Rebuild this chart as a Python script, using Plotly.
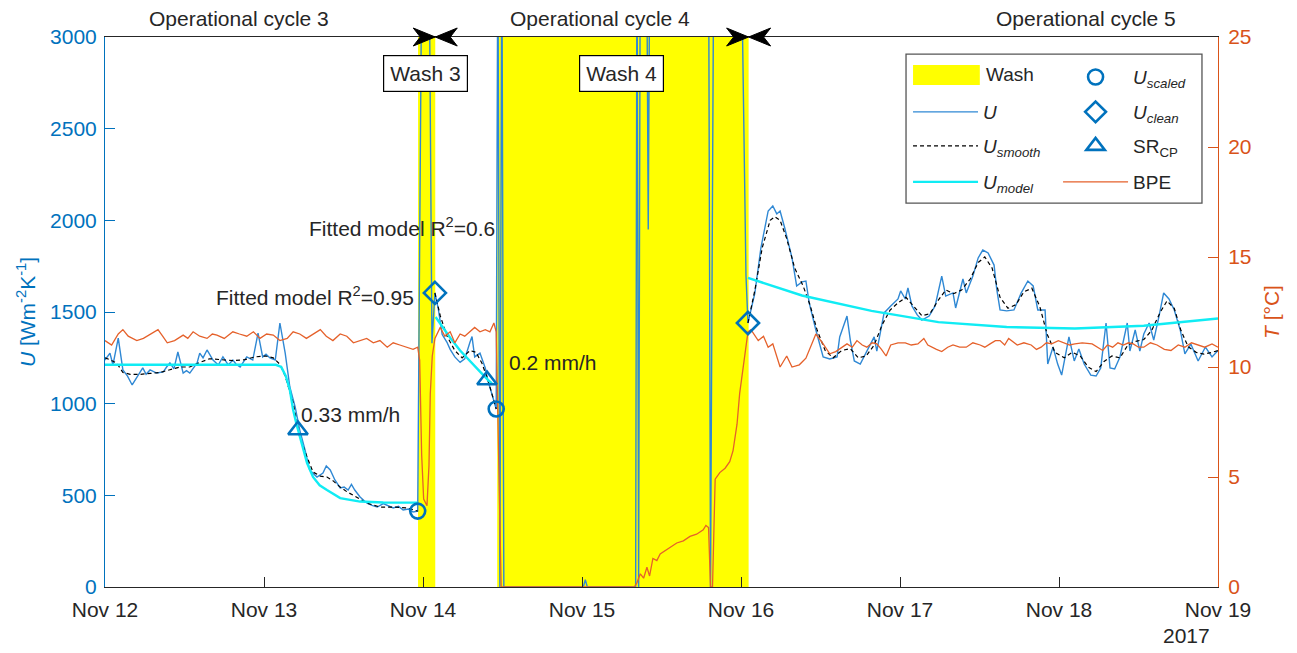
import plotly.graph_objects as go
import pandas as pd

BASE = pd.Timestamp("2017-11-12 00:00")
DAYS = 7

# ---------------- data (hours since Nov 12 00:00) ----------------
wash3 = (47.25, 49.85)
wash4 = (59.2, 97.15)

u_hours = [0.0, 0.75, 1.2, 2.0, 2.7, 3.4, 4.1, 4.8, 5.7, 6.2, 6.8, 7.8, 8.8, 9.3, 9.8, 10.4, 11.0, 11.8, 12.3, 12.8,
           13.4, 13.9, 14.3, 14.8, 15.4, 16.3, 17.1, 17.8, 18.6, 19.3, 19.8, 20.4, 21.4, 22.3, 23.1, 23.8, 24.3, 24.9,
           25.7, 26.4, 27.2, 27.9, 28.7, 29.4, 30.2, 30.9, 32.0, 32.9, 33.4, 34.0, 34.7, 35.5, 36.1, 36.7, 37.2, 37.7,
           38.5, 39.5, 40.3, 41.1, 42.0, 42.6, 43.5, 44.3, 45.0, 45.8, 46.5, 47.2,
           47.85, 48.9, 49.35, 49.8,
           50.3, 50.9, 51.6, 52.1, 52.8, 53.6, 54.3, 55.1, 55.4, 55.8, 56.6, 57.4, 57.8, 58.4, 59.05,
           59.3, 59.6, 59.9, 60.2, 72.2, 72.5, 72.8, 80.1, 80.3, 80.55, 80.8, 81.75, 82.0, 82.25, 91.1, 91.4, 91.9,
           96.0, 96.75, 97.05,
           98.1, 99.0, 100.1, 100.8, 101.4, 101.9, 102.6, 103.7, 104.4, 105.2, 105.8, 106.3, 107.3, 108.4, 109.4,
           110.5, 110.9, 112.0, 112.5, 113.1, 114.0, 115.0, 116.1, 116.5, 117.6, 118.6, 119.7, 120.1, 120.8, 121.2,
           121.8, 122.6, 123.3, 124.4, 125.3, 126.3, 126.9, 128.0, 128.4, 129.5, 130.0, 131.0, 131.8, 132.5, 133.3,
           134.2, 134.6, 135.1, 136.1, 137.2, 138.3, 139.3, 140.1, 140.8, 141.9, 142.3, 143.1, 143.8, 144.4, 145.5,
           146.3, 147.0, 147.8, 148.8, 149.6, 150.3, 151.1, 151.7, 152.4, 153.2, 154.3, 154.7, 155.5, 156.2, 156.8,
           157.6, 158.3, 159.1, 159.8, 160.6, 161.4, 162.3, 163.0, 163.9, 165.0, 166.1, 167.1, 168.0]
u_vals = [1238, 1276, 1211, 1358, 1184, 1150, 1102, 1140, 1195, 1160, 1184, 1167, 1173, 1200, 1222, 1190, 1282, 1167,
          1180, 1167, 1200, 1222, 1276, 1250, 1293, 1238, 1211, 1255, 1211, 1238, 1215, 1200, 1255, 1238, 1385, 1255,
          1270, 1249, 1238, 1440, 1276, 1091, 982, 856, 747, 638, 600, 622, 660, 638, 584, 540, 545, 529, 560, 529,
          491, 458, 445, 436, 455, 447, 431, 440, 420, 425, 409, 414,
          3600, 3600, 1330, 1604,
          1519, 1377, 1336, 1296, 1255, 1225, 1244, 1336, 1366, 1255, 1276, 1195, 1124, 1053, 971,
          3600, 0, 3600, 0, 0, 40, 0, 0, 3600, 0, 3600, 3600, 1950, 3600, 3600, 0, 3600,
          3600, 1700, 1440,
          1604, 1849, 2051, 2078, 2035, 2051, 1958, 1795, 1642, 1664, 1669, 1549, 1402, 1255, 1244,
          1255, 1364, 1478, 1347, 1233, 1216, 1287, 1364, 1287, 1495, 1533, 1571, 1615, 1571, 1631,
          1533, 1484, 1456, 1478, 1533, 1696, 1587, 1604, 1522, 1680, 1604, 1696, 1795, 1838, 1822,
          1756, 1625, 1511, 1506, 1511, 1604, 1669, 1642, 1511, 1511, 1216, 1309, 1216, 1156, 1364,
          1233, 1298, 1216, 1156, 1151, 1195, 1440, 1195, 1189, 1255, 1440, 1287, 1402, 1287, 1380,
          1440, 1347, 1478, 1604, 1571, 1511, 1402, 1271, 1325, 1233, 1309, 1255, 1290]

smooth_hours = [0.0, 0.75, 1.8, 2.7, 3.8, 5.3, 6.8, 8.3, 9.8, 11.3, 12.8, 14.3, 15.8, 17.4, 19.3, 21.1, 22.6, 24.2,
                25.4, 26.4, 27.2, 28.4, 29.4, 30.5, 31.4, 32.5, 33.5, 34.4, 35.5, 36.5, 37.4, 38.5, 39.5, 41.5, 43.5,
                45.6, 47.2, None,
                49.8, 50.6, 51.6, 52.8, 53.9, 55.1, 56.0, 56.9, 57.8, 58.6, 59.05, None,
                97.05, 98.1, 99.2, 100.4, 101.1, 101.9, 102.9, 104.1, 105.4, 106.4, 107.5, 108.7, 109.9, 111.2, 112.5,
                113.7, 114.9, 116.1, 117.3, 118.5, 119.7, 120.9, 122.1, 123.3, 124.5, 125.7, 126.9, 128.1, 129.3,
                130.6, 131.8, 132.8, 133.9, 135.1, 136.3, 137.5, 138.7, 139.9, 141.1, 142.2, 143.4, 144.8, 146.0,
                147.2, 148.4, 149.6, 150.8, 152.0, 153.2, 154.4, 155.6, 156.8, 158.0, 159.3, 160.3, 161.4, 162.4,
                163.5, 164.7, 165.9, 167.1, 168.0]
smooth_vals = [1250, 1240, 1220, 1170, 1160, 1160, 1165, 1170, 1185, 1200, 1200, 1225, 1245, 1240, 1235, 1240, 1255,
               1260, 1250, 1215, 1150, 1004, 818, 709, 627, 605, 600, 580, 545, 520, 502, 480, 458, 436, 436, 431,
               414, None,
               1604, 1480, 1370, 1290, 1250, 1290, 1280, 1220, 1130, 1030, 971, None,
               1440, 1620, 1850, 2000, 2020, 2000, 1900, 1740, 1640, 1540, 1400, 1290, 1250, 1290, 1300,
               1250, 1260, 1320, 1430, 1510, 1550, 1580, 1530, 1480, 1490, 1560, 1620, 1600, 1620,
               1680, 1770, 1800, 1740, 1580, 1520, 1540, 1610, 1630, 1530, 1380, 1280, 1250, 1280,
               1260, 1200, 1175, 1230, 1260, 1250, 1320, 1340, 1350, 1400, 1500, 1560, 1520, 1400,
               1310, 1280, 1270, 1280, 1290]

model_hours = [0.0, 25.8, 26.6, 27.3, 27.9, 28.4, 28.9, 29.4, 30.0, 30.5, 31.4, 32.4, 33.5, 35.5, 38.5, 42.0, 47.2, None,
               49.9, 50.9, 52.1, 53.6, 55.1, 56.6, 57.8, 58.4, None,
               97.05, 105.2, 115.7, 125.8, 136.1, 146.4, 156.8, 168.0]
model_vals = [1212, 1212, 1200, 1150, 1075, 965, 890, 818, 740, 676, 600, 555, 529, 485, 466, 461, 460, None,
              1473, 1420, 1360, 1290, 1230, 1175, 1130, 1110, None,
              1686, 1590, 1506, 1445, 1418, 1410, 1425, 1465]

bpe_hours = [0, 1.0, 2.0, 2.7, 3.5, 4.8, 5.8, 6.8, 8.0, 8.7, 9.4, 10.5, 11.8, 12.5, 13.3, 14.3, 15.4, 16.2, 16.9, 18.0,
             19.3, 20.3, 21.4, 22.4, 23.4, 24.4, 25.4, 26.4, 27.5, 28.4, 29.4, 30.4, 31.4, 32.5, 33.4, 34.4, 35.5,
             36.5, 37.5, 38.5, 39.5, 40.5, 41.5, 42.6, 43.5, 44.5, 45.5, 46.5, 47.2,
             47.5, 47.8, 48.1, 48.6, 48.9, 49.1, 49.4, 49.8,
             50.6, 51.3, 52.1, 52.8, 53.6, 54.3, 55.1, 55.8, 56.6, 57.4, 58.1, 58.7, 59.05, 59.4, 59.8,
             79.9, 80.3, 80.8, 81.3, 81.8, 82.2, 82.7, 83.3, 83.8, 84.8, 85.5, 86.3, 87.3, 88.3, 89.3, 90.3, 90.7,
             91.1, 91.4, 91.7, 92.1, 92.8, 93.6, 94.3, 94.8, 95.4, 95.8, 96.6, 97.05,
             97.5, 98.6, 99.4, 100.1, 100.8, 101.9, 102.9, 103.7, 104.8, 105.8, 106.9, 107.3, 108.4, 109.4, 110.3,
             111.2, 112.0, 112.8, 113.5, 114.3, 115.0, 115.8, 116.5, 117.2, 117.9, 118.6, 119.7, 120.8, 121.7,
             122.7, 123.6, 124.2, 124.8, 125.5, 126.3, 127.2, 128.0, 129.0, 130.0, 131.0, 132.1, 132.8, 133.6,
             134.4, 135.1, 135.8, 136.4, 137.7, 138.7, 139.8, 140.6, 141.3, 142.1, 142.9, 143.9, 144.9, 145.6,
             146.4, 147.5, 149.0, 149.8, 150.6, 151.3, 152.1, 152.9, 153.7, 154.5, 155.2, 156.0, 156.8, 157.8,
             158.8, 159.9, 160.9, 162.0, 163.0, 164.0, 165.0, 166.0, 167.1, 168.0]
bpe_vals = [11.2, 11.0, 11.5, 11.7, 11.4, 11.2, 11.3, 11.5, 11.7, 11.4, 11.1, 11.2, 11.45, 11.3, 11.6, 11.4, 11.3,
            11.5, 11.45, 11.3, 11.6, 11.5, 11.4, 11.6, 11.3, 11.5, 11.45, 11.2, 11.3, 11.6, 11.5, 11.3, 11.5, 11.7,
            11.4, 11.2, 11.5, 11.4, 11.1, 11.2, 11.3, 11.1, 11.2, 10.9, 11.1, 11.0, 10.9, 10.8, 10.9,
            10.3, 6.0, 4.0, 3.7, 5.5, 8.8, 10.5, 11.3,
            11.8, 11.4, 11.6, 11.1, 11.5, 11.4, 11.6, 11.8, 11.6, 11.7, 11.6, 12.0, 11.6, 6.0, 0.0,
            0.0, 0.2, 0.6, 0.4, 0.9, 0.5, 1.3, 1.2, 1.5, 1.7, 1.8, 2.0, 2.1, 2.3, 2.4, 2.6, 2.8,
            2.7, 0.0, 0.0, 4.9, 5.2, 5.4, 5.7, 6.2, 7.4, 8.8, 10.45, 11.6,
            11.7, 11.2, 11.4, 10.9, 11.05, 10.0, 10.5, 10.0, 10.1, 10.4, 11.2, 11.5, 11.05, 10.6, 10.7,
            10.9, 11.05, 10.9, 11.2, 11.0, 10.9, 11.1, 11.05, 10.8, 10.5, 11.0, 11.1, 11.1, 11.0,
            11.05, 11.3, 11.0, 10.9, 10.8, 10.7, 10.9, 11.0, 10.9, 10.9, 11.1, 11.0, 10.9, 11.05,
            11.2, 11.2, 11.0, 11.3, 11.0, 11.1, 11.0, 10.8, 10.9, 11.1, 11.05, 11.2, 11.1, 11.0,
            11.05, 11.1, 11.05, 10.9, 10.75, 11.0, 10.9, 11.1, 11.0, 11.1, 11.05, 10.9, 10.9, 11.1,
            11.0, 10.8, 10.75, 11.0, 10.9, 11.1, 11.0, 10.9, 11.05, 10.9]

scaled_hours = [47.2, 59.05]
scaled_vals = [414, 971]
clean_hours = [49.8, 97.05]
clean_vals = [1604, 1440]
srcp_hours = [29.13, 57.66]
srcp_vals = [856, 1129]

U_RANGE = [0, 3000]
T_RANGE = [0, 25]


def t(hours):
    return [None if h is None else BASE + pd.Timedelta(hours=h) for h in hours]


BLUE = "#0072BD"
ULINE = "#2f88d4"
ORANGE = "#D95319"
BPELINE = "#E5612B"
CYAN = "#10ECF4"
DARK = "#262626"
FONT = "Liberation Sans, Arial, sans-serif"
FS = 21
LFS = 19

fig = go.Figure()

fig.add_trace(go.Scatter(x=t(u_hours), y=u_vals, mode="lines", name="<i>U</i>",
                         line=dict(color=ULINE, width=1.4), legend="legend"))
fig.add_trace(go.Scatter(x=t(smooth_hours), y=smooth_vals, mode="lines", name="<i>U</i><sub><i>smooth</i></sub>",
                         line=dict(color="black", width=1.2, dash="4px,3px"), legend="legend2"))
fig.add_trace(go.Scatter(x=t(model_hours), y=model_vals, mode="lines", name="<i>U</i><sub><i>model</i></sub>",
                         line=dict(color=CYAN, width=2.4), legend="legend3"))
fig.add_trace(go.Scatter(x=t(bpe_hours), y=bpe_vals, mode="lines", name="BPE", yaxis="y2",
                         line=dict(color=BPELINE, width=1.3), legend="legend7"))
fig.add_trace(go.Scatter(x=t(scaled_hours), y=scaled_vals, mode="markers", name="<i>U</i><sub><i>scaled</i></sub>",
                         yaxis="y3", legend="legend4",
                         marker=dict(symbol="circle-open", size=15, color=BLUE, line=dict(width=2.6, color=BLUE))))
fig.add_trace(go.Scatter(x=t(clean_hours), y=clean_vals, mode="markers", name="<i>U</i><sub><i>clean</i></sub>",
                         yaxis="y3", legend="legend5",
                         marker=dict(symbol="diamond-open", size=17, color=BLUE, line=dict(width=2.6, color=BLUE))))
fig.add_trace(go.Scatter(x=t(srcp_hours), y=srcp_vals, mode="markers", name="SR<sub>CP</sub>",
                         yaxis="y3", legend="legend6",
                         marker=dict(symbol="triangle-up-open", size=17, color=BLUE, line=dict(width=2.6, color=BLUE))))

shapes = []
for s, e in (wash3, wash4):
    shapes.append(dict(type="rect", xref="x", yref="paper", x0=t([s])[0], x1=t([e])[0], y0=0, y1=1,
                       fillcolor="#FFFF00", line=dict(width=0), layer="below"))
# arrowheads of the operational cycle markers
right_head = "M0,0 L-22,9 L-15,0 L-22,-9 Z"
left_head = "M0,0 L22,9 L15,0 L22,-9 Z"
for e in (wash3[1], wash4[1]):
    for p in (right_head, left_head):
        shapes.append(dict(type="path", xref="x", yref="paper", xsizemode="pixel", ysizemode="pixel",
                           xanchor=t([e])[0], yanchor=1, path=p, fillcolor="black",
                           line=dict(color="black", width=1)))
# legend frame and wash swatch
shapes.append(dict(type="rect", xref="paper", yref="paper", x0=0.7197, x1=0.9856, y0=0.698, y1=0.969,
                   fillcolor="white", line=dict(color="#555555", width=1.3), layer="above"))
shapes.append(dict(type="rect", xref="paper", yref="paper", x0=0.726, x1=0.786, y0=0.9127, y1=0.949,
                   fillcolor="#FFFF00", line=dict(width=0), layer="above"))

ann = []
txt = dict(family=FONT, size=FS, color=DARK)
ann.append(dict(text="Wash", xref="paper", yref="paper", x=0.7895, y=0.931, xanchor="left", yanchor="middle",
                showarrow=False, font=dict(family=FONT, size=LFS, color=DARK)))
for label, h in (("Operational cycle 3", 20.2), ("Operational cycle 4", 74.7), ("Operational cycle 5", 148.1)):
    ann.append(dict(text=label, xref="x", yref="paper", x=t([h])[0], y=1.034, xanchor="center",
                    yanchor="middle", showarrow=False, font=txt))
for label, h in (("Wash 3", 48.4), ("Wash 4", 78.0)):
    ann.append(dict(text=label, xref="x", yref="y", x=t([h])[0], y=2800, xanchor="center", yanchor="middle",
                    showarrow=False, font=txt, bgcolor="white", bordercolor="black", borderwidth=1.2,
                    borderpad=6))
ann.append(dict(text="Fitted model R<sup>2</sup>=0.95", xref="x", yref="y", x=t([46.9])[0], y=1590,
                xanchor="right", yanchor="middle", showarrow=False, font=txt))
ann.append(dict(text="Fitted model R<sup>2</sup>=0.6", xref="x", yref="y", x=t([59.2])[0], y=1965,
                xanchor="right", yanchor="middle", showarrow=False, font=txt))
ann.append(dict(text="0.33 mm/h", xref="x", yref="y", x=t([29.3])[0], y=940,
                xanchor="left", yanchor="middle", showarrow=False, font=txt))
ann.append(dict(text="0.2 mm/h", xref="x", yref="y", x=t([60.7])[0], y=1225,
                xanchor="left", yanchor="middle", showarrow=False, font=txt))
ann.append(dict(text="2017", xref="x", yref="paper", x=t([163.3])[0], y=-0.088,
                xanchor="center", yanchor="middle", showarrow=False, font=txt))

leg_font = dict(family=FONT, size=LFS, color=DARK)
def legend_at(x, y):
    return dict(x=x, y=y, xanchor="left", yanchor="middle", bgcolor="rgba(0,0,0,0)", borderwidth=0,
                font=leg_font, itemwidth=65, itemclick=False, itemdoubleclick=False)

# page body has an 8 px margin, so the figure is 8 px smaller and shifted
fig.update_layout(
    width=1289, height=645,
    margin=dict(l=97, r=79, t=29, b=66),
    paper_bgcolor="white", plot_bgcolor="white",
    font=dict(family=FONT, size=FS, color=DARK),
    showlegend=True,
    legend=legend_at(0.7215, 0.8636),
    legend2=legend_at(0.7215, 0.8018),
    legend3=legend_at(0.7215, 0.7364),
    legend4=legend_at(0.8563, 0.927),
    legend5=legend_at(0.8563, 0.8636),
    legend6=legend_at(0.8563, 0.8018),
    legend7=legend_at(0.8563, 0.7364),
    xaxis=dict(type="date", range=[BASE, BASE + pd.Timedelta(days=DAYS)], tickformat="%b %d",
               dtick=86400000, tick0=BASE, ticks="inside", ticklen=10, tickcolor=DARK,
               showline=True, linecolor=DARK, linewidth=1, mirror=True, showgrid=False, zeroline=False,
               ticklabelstandoff=4, tickfont=dict(family=FONT, size=FS, color=DARK)),
    yaxis=dict(range=U_RANGE, dtick=500, ticks="inside", ticklen=10, tickcolor=BLUE, showline=True,
               linecolor=BLUE, linewidth=1, showgrid=False, zeroline=False, ticklabelstandoff=3,
               tickfont=dict(family=FONT, size=FS, color=BLUE),
               title=dict(text="<i>U</i> [Wm<sup>-2</sup>K<sup>-1</sup>]", standoff=8,
                          font=dict(family=FONT, size=FS, color=BLUE))),
    yaxis2=dict(range=T_RANGE, dtick=5, overlaying="y", side="right", ticks="inside", ticklen=10,
                tickcolor=ORANGE, showline=True, linecolor=ORANGE, linewidth=1, showgrid=False, zeroline=False,
                ticklabelstandoff=5, tickfont=dict(family=FONT, size=FS, color=ORANGE),
                title=dict(text="<i>T</i> [°C]", standoff=13, font=dict(family=FONT, size=FS, color=ORANGE))),
    yaxis3=dict(range=U_RANGE, overlaying="y", visible=False),
    shapes=shapes,
    annotations=ann,
)

fig.write_html("out.html")
